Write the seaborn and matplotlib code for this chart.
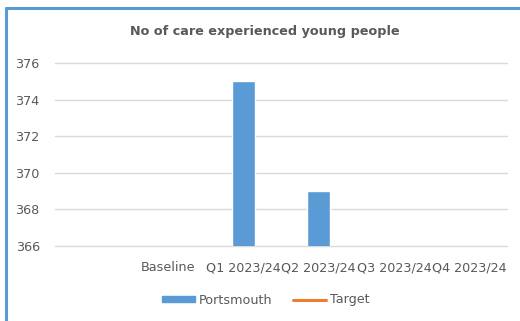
import numpy as np
import pandas as pd
import matplotlib
matplotlib.use("Agg")
import matplotlib.pyplot as plt
from matplotlib.lines import Line2D
import seaborn as sns

categories = ["", "Baseline", "Q1 2023/24", "Q2 2023/24", "Q3 2023/24", "Q4 2023/24"]
portsmouth = [np.nan, np.nan, 375, 369, np.nan, np.nan]
target = [np.nan, np.nan, np.nan, np.nan, np.nan, np.nan]
title = "No of care experienced young people"

sns.set_theme(style="white")
plt.rcParams["font.family"] = ["DejaVu Sans"]

txt = "#595959"
blue = "#5b9bd5"
orange = "#ed7d31"

fig = plt.figure(figsize=(5.2, 3.21), dpi=100)
ax = fig.add_axes([55 / 520, (321 - 246) / 321, (507 - 55) / 520, (246 - 63) / 321])

df = pd.DataFrame({"cat": categories, "Portsmouth": portsmouth})
sns.barplot(data=df, x="cat", y="Portsmouth", order=categories, color=blue,
            width=0.31, ax=ax, saturation=1, zorder=3)
ax.plot(range(len(categories)), target, color=orange, lw=2.2)

ax.set_ylim(366, 376)
ax.set_yticks(np.arange(366, 377, 2))
ax.set_xlim(-0.5, len(categories) - 0.5)
ax.set_xlabel("")
ax.set_ylabel("")
ax.grid(axis="y", color="#d9d9d9", lw=1)
for gl in ax.get_ygridlines():
    gl.set_clip_on(False)
ax.set_axisbelow(True)
for s in ax.spines.values():
    s.set_visible(False)
ax.tick_params(axis="both", length=0, labelsize=9.2, labelcolor=txt)
ax.tick_params(axis="y", pad=11)
ax.tick_params(axis="x", pad=11)

fig.text(265 / 520, 1 - 32 / 321, title, ha="center", va="center",
         fontsize=9.2, fontweight="bold", color=txt)

handles = [plt.Rectangle((0, 0), 1, 1, color=blue),
           Line2D([0], [0], color=orange, lw=2.2)]
leg = fig.legend(handles, ["Portsmouth", "Target"], loc="center",
                 bbox_to_anchor=(266 / 520, 1 - 300 / 321), ncol=2, frameon=False,
                 fontsize=9.2, handlelength=2.6, handleheight=0.4, columnspacing=1.6,
                 handletextpad=0.3, labelcolor=txt)

# border of the chart area
fig.add_artist(Line2D([5.5 / 520, 1.0], [1 - 7.5 / 321, 1 - 7.5 / 321],
                      color=blue, lw=2.2, transform=fig.transFigure))
fig.add_artist(Line2D([5.5 / 520, 5.5 / 520], [0, 1 - 7.5 / 321],
                      color=blue, lw=2.2, transform=fig.transFigure))

fig.savefig("out.png", dpi=100, facecolor="white")
